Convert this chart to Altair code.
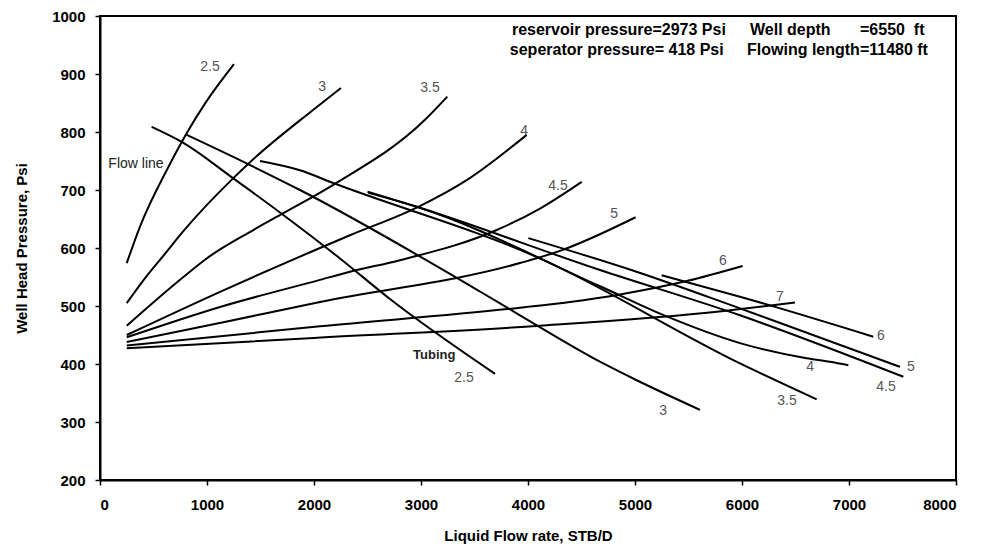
import altair as alt
import pandas as pd

FONT = "Liberation Sans"

# ---- Flow-line curves (outflow, rising) ----
flow_25_x = [250, 374, 626, 810, 981, 1252]
flow_25_y = [574, 637, 735, 798, 849, 917]
flow_3_x = [250, 400, 607, 779, 1243, 1402, 1991, 2252]
flow_3_y = [505, 543, 590, 629, 720, 748, 838, 876]
flow_35_x = [250, 779, 997, 1433, 1713, 2180, 3037, 3246]
flow_35_y = [466, 550, 582, 631, 660, 709, 821, 861]
flow_4_x = [250, 1153, 2056, 2336, 2975, 3427, 3988]
flow_4_y = [450, 527, 600, 622, 671, 717, 795]
flow_45_x = [250, 1153, 2056, 2336, 2804, 3708, 4112, 4502]
flow_45_y = [446, 500, 545, 559, 579, 631, 668, 714]
flow_5_x = [250, 1153, 2056, 3925, 4299, 5006]
flow_5_y = [438, 472, 507, 574, 595, 653]
flow_6_x = [250, 2056, 3925, 4393, 4860, 5483, 6006]
flow_6_y = [432, 465, 497, 507, 520, 543, 569]
flow_7_x = [250, 2000, 4112, 5810, 6495]
flow_7_y = [427, 445, 466, 491, 506]

# ---- Tubing curves (falling) ----
tub_25_x = [483, 764, 1246, 1713, 2243, 2710, 3692]
tub_25_y = [809, 783, 720, 657, 582, 512, 383]
tub_3_x = [810, 1402, 1869, 3551, 3925, 4704, 5016, 5607]
tub_3_y = [795, 743, 700, 525, 484, 401, 372, 321]
tub_35_x = [1495, 1869, 2180, 4112, 5981, 6698]
tub_35_y = [750, 734, 712, 582, 401, 339]
tub_4_x = [2508, 2960, 4673, 5296, 5981, 6604, 6822, 6994]
tub_4_y = [695, 671, 534, 482, 436, 410, 404, 398]
tub_45_x = [2500, 2960, 4673, 5981, 7508]
tub_45_y = [697, 671, 562, 484, 378]
tub_5_x = [4003, 5000, 5981, 7477]
tub_5_y = [617, 560, 496, 395]
tub_6_x = [5249, 5981, 7227]
tub_6_y = [553, 516, 447]

curves = [
    ("F2.5", flow_25_x, flow_25_y), ("F3", flow_3_x, flow_3_y),
    ("F3.5", flow_35_x, flow_35_y), ("F4", flow_4_x, flow_4_y),
    ("F4.5", flow_45_x, flow_45_y), ("F5", flow_5_x, flow_5_y),
    ("F6", flow_6_x, flow_6_y), ("F7", flow_7_x, flow_7_y),
    ("T2.5", tub_25_x, tub_25_y), ("T3", tub_3_x, tub_3_y),
    ("T3.5", tub_35_x, tub_35_y), ("T4", tub_4_x, tub_4_y),
    ("T4.5", tub_45_x, tub_45_y), ("T5", tub_5_x, tub_5_y),
    ("T6", tub_6_x, tub_6_y),
]
rows = []
for name, xs, ys in curves:
    for xv, yv in zip(xs, ys):
        rows.append({"curve": name, "rate": xv, "pressure": yv})
df = pd.DataFrame(rows)

# ---- Curve size labels ----
label_text = ["2.5", "3", "3.5", "4", "4.5", "5", "6", "7",
              "2.5", "3", "3.5", "4", "4.5", "5", "6"]
label_x = [1028, 2075, 3084, 3963, 4280, 4804, 5822, 6355,
           3402, 5262, 6421, 6636, 7346, 7579, 7299]
label_y = [912, 878, 876, 802, 707, 659, 578, 516,
           376, 319, 336, 395, 360, 395, 448]
labels_df = pd.DataFrame({"t": label_text, "x": label_x, "y": label_y})

note_text = ["Flow line", "Tubing"]
note_x = [336, 3124]
note_y = [745, 416]
notes_df = pd.DataFrame({"t": note_text, "x": note_x, "y": note_y})

info_text = ["reservoir pressure=2973 Psi", "Well depth", "=6550\u00a0\u00a0ft",
             "seperator pressure= 418 Psi", "Flowing length=11480 ft"]
info_x = [3850, 6075, 7103, 3830, 6047]
info_y = [976, 976, 976, 941, 941]
info_df = pd.DataFrame({"t": info_text, "x": info_x, "y": info_y})

xscale = alt.Scale(domain=[0, 8000], nice=False, zero=False)
yscale = alt.Scale(domain=[200, 1000], nice=False, zero=False)

lines = alt.Chart(df).mark_line(
    interpolate="monotone", color="black", strokeWidth=2
).encode(
    x=alt.X("rate:Q", scale=xscale, axis=alt.Axis(
        values=list(range(0, 8001, 1000)), format="d",
        title="Liquid Flow rate, STB/D", labelPadding=12, titlePadding=16)),
    y=alt.Y("pressure:Q", scale=yscale, axis=alt.Axis(
        values=list(range(200, 1001, 100)), format="d",
        title="Well Head Pressure, Psi", labelPadding=10, titlePadding=22)),
    detail="curve:N",
)

size_labels = alt.Chart(labels_df).mark_text(
    font=FONT, fontSize=14, color="#555", align="center", baseline="middle"
).encode(x=alt.X("x:Q", scale=xscale), y=alt.Y("y:Q", scale=yscale), text="t:N")

flow_note = alt.Chart(notes_df.iloc[[0]]).mark_text(
    font=FONT, fontSize=14, color="#222", align="center", baseline="middle"
).encode(x=alt.X("x:Q", scale=xscale), y=alt.Y("y:Q", scale=yscale), text="t:N")

tubing_note = alt.Chart(notes_df.iloc[[1]]).mark_text(
    font=FONT, fontSize=13, fontWeight="bold", color="#222",
    align="center", baseline="middle"
).encode(x=alt.X("x:Q", scale=xscale), y=alt.Y("y:Q", scale=yscale), text="t:N")

info_labels = alt.Chart(info_df).mark_text(
    font=FONT, fontSize=16, fontWeight="bold", color="black",
    align="left", baseline="middle"
).encode(x=alt.X("x:Q", scale=xscale), y=alt.Y("y:Q", scale=yscale), text="t:N")

chart = alt.layer(lines, size_labels, flow_note, tubing_note, info_labels).properties(
    width=856, height=464,
    padding={"left": 100, "top": 16, "right": 28, "bottom": 72},
    autosize=alt.AutoSizeParams(type="none"),
    background="white",
).configure_view(
    stroke="black", strokeWidth=2
).configure_axis(
    grid=False, domainColor="black", domainWidth=2, tickColor="black",
    tickSize=5, tickWidth=1.5,
    labelFont=FONT, labelFontSize=15, labelFontWeight="bold", labelColor="black",
    titleFont=FONT, titleFontSize=15, titleFontWeight="bold", titleColor="black",
)

chart.save("out.html", embed_options={"renderer": "svg", "actions": False})
